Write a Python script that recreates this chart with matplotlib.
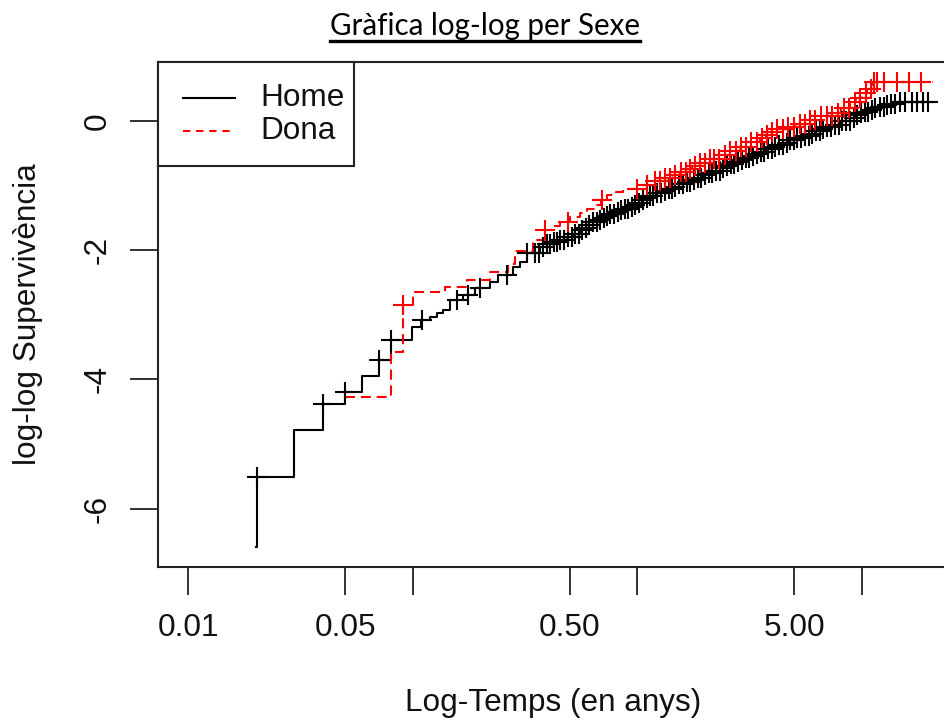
import numpy as np
import matplotlib
matplotlib.use("Agg")
import matplotlib.pyplot as plt
from matplotlib.lines import Line2D
from matplotlib.patches import Rectangle
from matplotlib.ticker import FixedLocator, FixedFormatter, NullLocator

plt.rcParams['font.family'] = ['Liberation Sans', 'DejaVu Sans']

# ---------------- data ----------------
# Home (black): event times (years) and log(-log(S)) step levels
home_t = [0.0201, 0.0202, 0.0296, 0.0399, 0.0500, 0.0596, 0.0708, 0.0801, 0.0993,
          0.109, 0.119, 0.128, 0.137, 0.147, 0.168, 0.190, 0.221, 0.240, 0.280,
          0.301, 0.323, 0.369, 0.395, 0.422, 0.455, 0.487, 0.52, 0.556, 0.58,
          0.610, 0.635, 0.662, 0.695, 0.73, 0.76, 0.796, 0.84, 0.88, 0.92, 0.957,
          1.0, 1.05, 1.10, 1.14, 1.21, 1.29, 1.36, 1.44, 1.53, 1.62, 1.73, 1.85,
          1.96, 2.08, 2.2, 2.34, 2.47, 2.60, 2.73, 2.87, 3.03, 3.2, 3.36, 3.53,
          3.75, 4.0, 4.22, 4.46, 4.76, 5.1, 5.45, 5.88, 6.2, 6.6, 7.0, 7.44, 8.1,
          8.86, 9.3, 9.8, 10.3, 10.9, 11.4, 12.0, 12.7, 13.4, 14.4]
home_y = [-6.59, -5.51, -4.78, -4.38, -4.20, -3.95, -3.70, -3.39, -3.19,
          -3.08, -3.03, -2.97, -2.93, -2.77, -2.69, -2.59, -2.49, -2.38, -2.26,
          -2.18, -2.04, -1.95, -1.91, -1.87, -1.84, -1.80, -1.75, -1.69, -1.65,
          -1.61, -1.57, -1.53, -1.50, -1.47, -1.44, -1.41, -1.38, -1.36, -1.33, -1.30,
          -1.27, -1.23, -1.19, -1.16, -1.12, -1.09, -1.05, -1.02, -0.98, -0.95, -0.91, -0.88,
          -0.84, -0.80, -0.77, -0.73, -0.70, -0.66, -0.63, -0.60, -0.57, -0.54, -0.51, -0.48,
          -0.44, -0.41, -0.37, -0.34, -0.30, -0.27, -0.23, -0.20, -0.16, -0.13, -0.09, -0.06, 0.0,
          0.05, 0.09, 0.12, 0.145, 0.17, 0.195, 0.22, 0.245, 0.27, 0.30]
home_end = 21.2
home_cens = [0.0202, 0.040, 0.050, 0.071, 0.0802, 0.110, 0.157, 0.177, 0.200, 0.263,
             0.324, 0.35, 0.365, 0.38, 0.395, 0.41, 0.425, 0.44, 0.455, 0.47, 0.49,
             0.51, 0.53, 0.55, 0.57, 0.59, 0.61, 0.635, 0.66, 0.685, 0.71, 0.735,
             0.76, 0.79, 0.82, 0.85, 0.88, 0.91, 0.945, 0.98, 1.02, 1.06, 1.10, 1.14,
             1.18, 1.23, 1.28, 1.33, 1.38, 1.43, 1.48, 1.54, 1.60, 1.66, 1.72, 1.79,
             1.86, 1.93, 2.0, 2.08, 2.16, 2.24, 2.33, 2.42, 2.51, 2.61, 2.71, 2.82,
             2.93, 3.04, 3.16, 3.28, 3.41, 3.54, 3.68, 3.82, 3.97, 4.12, 4.28, 4.45,
             4.62, 4.8, 4.98, 5.17, 5.37, 5.58, 5.8, 6.02, 6.25, 6.5, 6.75, 7.0, 7.3,
             7.6, 7.9, 8.2, 8.5, 8.85, 9.2, 9.55, 9.9, 10.3, 10.7, 11.1, 11.5, 12.0,
             12.5, 13.0, 13.5, 14.0, 14.8, 15.6, 16.7, 17.6, 18.7, 19.7]

# Dona (red)
dona_t = [0.050, 0.0801, 0.0904, 0.100, 0.139, 0.175, 0.221, 0.265, 0.285, 0.343,
          0.389, 0.42, 0.453, 0.50, 0.556, 0.60, 0.65, 0.69, 0.734, 0.80, 0.865,
          1.0, 1.14, 1.29, 1.44, 1.55, 1.65, 1.75, 1.85, 2.1, 2.34, 2.6, 2.87,
          3.2, 3.53, 3.75, 4.0, 4.2, 4.46, 5.1, 5.88, 6.6, 7.44, 8.1, 8.86, 9.4,
          10.0, 10.6, 11.2]
dona_y = [-4.27, -3.58, -2.85, -2.65, -2.57, -2.46, -2.34, -2.22, -2.02, -1.84,
          -1.69, -1.62, -1.56, -1.49, -1.42, -1.36, -1.30, -1.22, -1.15, -1.10, -1.05,
          -0.99, -0.93, -0.88, -0.84, -0.79, -0.74, -0.70, -0.65, -0.59, -0.53, -0.46, -0.40,
          -0.33, -0.26, -0.21, -0.17, -0.13, -0.09, -0.04, 0.02, 0.07, 0.12, 0.20, 0.29, 0.36,
          0.43, 0.50, 0.60]
dona_end = 20.8
dona_cens = [0.0905, 0.390, 0.492, 0.695, 0.995, 1.1, 1.2, 1.26, 1.33, 1.4, 1.48,
             1.56, 1.64, 1.72, 1.8, 1.9, 2.0, 2.1, 2.2, 2.32, 2.45, 2.6, 2.75, 2.9,
             3.05, 3.2, 3.4, 3.6, 3.8, 4.0, 4.2, 4.45, 4.7, 5.0, 5.3, 5.6, 5.9, 6.2,
             6.6, 7.0, 7.4, 7.8, 8.3, 8.8, 9.3, 9.8, 10.4, 11.0, 11.3, 11.7, 12.5,
             14.4, 16.2, 18.3]

series_labels = ['Home', 'Dona']
x_ticks = [0.01, 0.05, 0.1, 0.5, 1, 5, 10]
x_ticklabels = ['0.01', '0.05', '', '0.50', '', '5.00', '']
y_ticks = [0, -2, -4, -6]
y_ticklabels = ['0', '-2', '-4', '-6']
title = 'Gràfica log-log per Sexe'
xlabel = 'Log-Temps (en anys)'
ylabel = 'log-log Supervivència'

# ---------------- figure ----------------
W, H = 944, 722
fig = plt.figure(figsize=(W / 100, H / 100), dpi=100)
L, R, T, B = 158, 948, 62, 567
ax = fig.add_axes([L / W, 1 - B / H, (R - L) / W, (B - T) / H])
ax.set_xscale('log')
ax.set_xlim(0.00734, 24.2)
ax.set_ylim(-6.904, 0.913)

FS = 22.7
LW = 1.5
TXT = '#111111'


def step_curve(t, y, end):
    xs = np.append(np.asarray(t, float), end)
    ys = np.append(np.asarray(y, float), y[-1])
    return xs, ys


def cens_levels(t, y, c):
    idx = np.searchsorted(np.asarray(t, float), np.asarray(c, float), side='right') - 1
    idx = np.clip(idx, 0, len(y) - 1)
    return np.asarray(y, float)[idx]


hx, hy = step_curve(home_t, home_y, home_end)
dx, dy = step_curve(dona_t, dona_y, dona_end)
dash = (0, (4.8, 2.8))
ax.step(hx, hy, where='post', color='black', lw=LW)
ax.step(dx, dy, where='post', color='red', lw=LW, linestyle=dash)
ax.plot(home_cens, cens_levels(home_t, home_y, home_cens), '+', color='black',
        ms=15, mew=LW, linestyle='none')
ax.plot(dona_cens, cens_levels(dona_t, dona_y, dona_cens), '+', color='red',
        ms=15, mew=LW, linestyle='none')

ax.xaxis.set_major_locator(FixedLocator(x_ticks))
ax.xaxis.set_major_formatter(FixedFormatter(x_ticklabels))
ax.xaxis.set_minor_locator(NullLocator())
ax.yaxis.set_major_locator(FixedLocator(y_ticks))
ax.yaxis.set_major_formatter(FixedFormatter(y_ticklabels))
ax.tick_params(axis='both', length=20, width=1.3, labelsize=FS, color='#222222',
               labelcolor=TXT)
ax.tick_params(axis='x', pad=13)
ax.tick_params(axis='y', pad=12.5, labelrotation=90)
for lab in ax.get_yticklabels():
    lab.set_va('center')
for s in ax.spines.values():
    s.set_linewidth(1.5)
    s.set_color('#222222')

# legend box (top-left, R style), laid out in figure pixels
def fx(px):
    return px / W


def fy(py):
    return 1 - py / H


fig.add_artist(Rectangle((fx(158), fy(166)), fx(354) - fx(158), fy(62) - fy(166),
                         transform=fig.transFigure, facecolor='white',
                         edgecolor='#222222', lw=1.5, zorder=5))
leg_styles = [dict(color='black', linestyle='-'),
              dict(color='red', linestyle=(0, (3.5, 2.8)))]
for lab, sty, ypx in zip(series_labels, leg_styles, [98, 131]):
    fig.add_artist(Line2D([fx(183), fx(235)], [fy(ypx), fy(ypx)],
                          transform=fig.transFigure, lw=LW, zorder=6, **sty))
    fig.text(fx(260), fy(ypx), lab, ha='left', va='center', fontsize=FS,
             color=TXT, zorder=6)

fig.text(28 / W, 1 - 314.5 / H, ylabel, rotation=90, ha='center', va='center',
         fontsize=FS, color=TXT)
fig.text(553 / W, 1 - 703 / H, xlabel, ha='center', va='center',
         fontsize=FS, color=TXT)

# title (underlined)
ttl = fig.text(485 / W, 1 - 35 / H, title, ha='center', va='baseline',
               fontsize=22, family=['Lato', 'DejaVu Sans'], color='black')
renderer = fig.canvas.get_renderer()
bb = ttl.get_window_extent(renderer)
ttl.set_fontsize(22 * 309 / bb.width)
bb = ttl.get_window_extent(renderer)
fig.add_artist(Line2D([bb.x0 / W, bb.x1 / W], [1 - 40.5 / H, 1 - 40.5 / H],
                      transform=fig.transFigure, color='black', lw=2.4))

fig.savefig('out.png', dpi=100)
